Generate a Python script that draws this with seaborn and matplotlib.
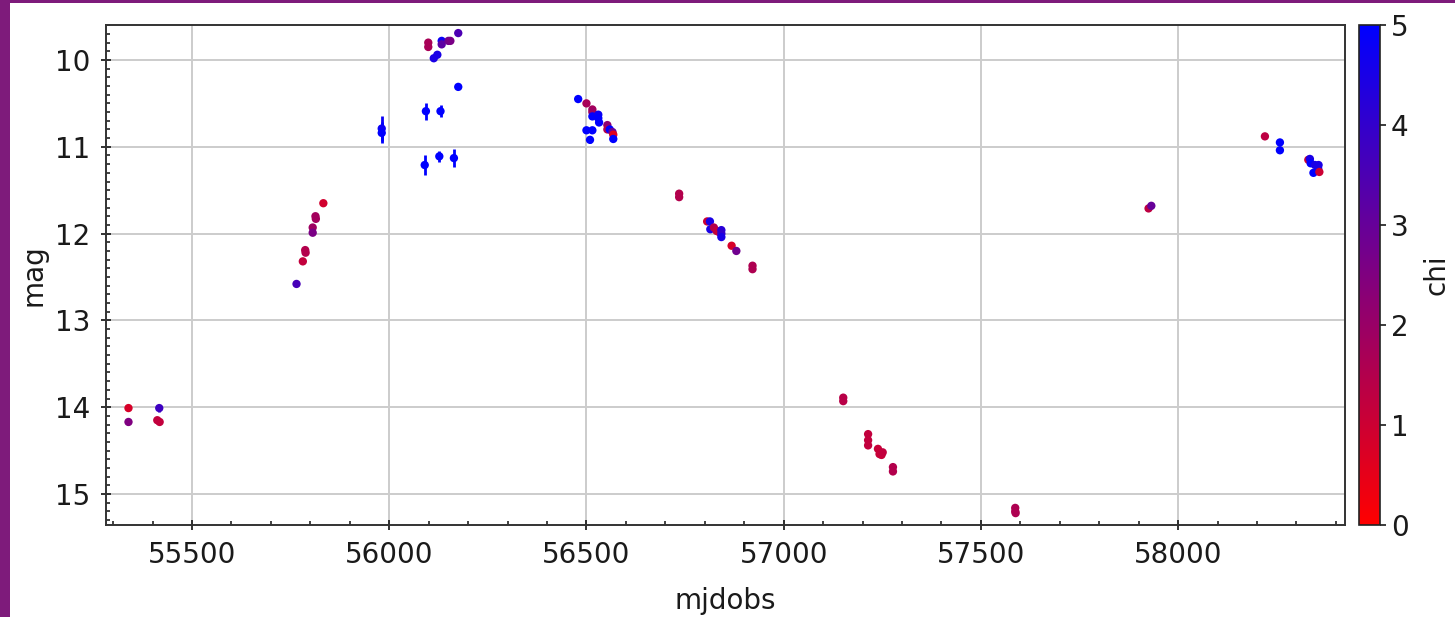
import numpy as np
import pandas as pd
import matplotlib
matplotlib.use("Agg")
import matplotlib.pyplot as plt
from matplotlib.colors import LinearSegmentedColormap, Normalize
from matplotlib.ticker import MultipleLocator
from matplotlib.patches import Rectangle
import seaborn as sns

# Light curve: observation epoch, magnitude, magnitude error, chi
mjdobs = [
    55339, 55339, 55417, 55412, 55418,
    55765, 55781, 55787, 55788, 55806, 55806, 55813, 55814, 55833,
    55981, 55981, 56090, 56093, 56099, 56099, 56113, 56122, 56127, 56130,
    56133, 56133, 56150, 56155, 56164, 56175, 56175,
    56479, 56500, 56515, 56515, 56515, 56530, 56530, 56532, 56500, 56515,
    56509, 56553, 56553, 56559, 56566, 56568, 56568,
    56735, 56735, 56806, 56813, 56814, 56823, 56830, 56838, 56842, 56842,
    56842, 56868, 56880, 56921, 56921,
    57151, 57151, 57214, 57214, 57214, 57239, 57243, 57248, 57251, 57277,
    57277, 57587, 57587, 57588,
    57925, 57932, 58220, 58258, 58258, 58330, 58334, 58336, 58347, 58355,
    58356, 58343, 58358,
]
mag = [
    14.01, 14.17, 14.01, 14.15, 14.17,
    12.58, 12.32, 12.19, 12.22, 11.93, 11.99, 11.80, 11.83, 11.65,
    10.79, 10.84, 11.21, 10.59, 9.80, 9.85, 9.98, 9.94, 11.11, 10.59,
    9.78, 9.82, 9.78, 9.78, 11.13, 9.69, 10.31,
    10.45, 10.50, 10.57, 10.60, 10.65, 10.63, 10.67, 10.72, 10.81, 10.81,
    10.92, 10.75, 10.80, 10.80, 10.83, 10.86, 10.91,
    11.54, 11.58, 11.86, 11.86, 11.95, 11.93, 11.97, 11.99, 11.96, 12.00,
    12.04, 12.14, 12.20, 12.37, 12.41,
    13.89, 13.93, 14.31, 14.38, 14.44, 14.48, 14.54, 14.55, 14.52, 14.69,
    14.74, 15.16, 15.20, 15.22,
    11.71, 11.68, 10.88, 10.95, 11.04, 11.15, 11.14, 11.19, 11.21, 11.25,
    11.21, 11.30, 11.29,
]
magerr = [
    0.02, 0.03, 0.04, 0.02, 0.02,
    0.02, 0.02, 0.02, 0.02, 0.02, 0.02, 0.02, 0.02, 0.02,
    0.14, 0.12, 0.12, 0.10, 0.03, 0.03, 0.02, 0.02, 0.06, 0.07,
    0.02, 0.02, 0.02, 0.02, 0.10, 0.02, 0.03,
    0.02, 0.02, 0.02, 0.02, 0.02, 0.02, 0.02, 0.02, 0.03, 0.02,
    0.04, 0.02, 0.02, 0.02, 0.02, 0.02, 0.02,
    0.02, 0.02, 0.02, 0.02, 0.02, 0.02, 0.02, 0.02, 0.02, 0.02,
    0.02, 0.02, 0.02, 0.02, 0.02,
    0.02, 0.02, 0.02, 0.02, 0.02, 0.02, 0.02, 0.02, 0.02, 0.02,
    0.02, 0.02, 0.02, 0.02,
    0.02, 0.02, 0.02, 0.02, 0.02, 0.02, 0.02, 0.02, 0.02, 0.02,
    0.02, 0.02, 0.02,
]
chi = [
    0.8, 2.5, 3.8, 1.2, 1.2,
    3.6, 1.2, 1.5, 1.5, 1.9, 2.6, 1.8, 1.8, 0.9,
    4.8, 5.0, 5.0, 5.0, 1.7, 1.7, 4.5, 4.5, 5.0, 5.0,
    4.8, 3.2, 2.8, 2.6, 5.0, 3.5, 5.0,
    5.0, 1.7, 1.8, 1.9, 5.0, 4.8, 5.0, 5.0, 5.0, 5.0,
    5.0, 2.2, 1.5, 5.0, 3.0, 0.6, 5.0,
    1.5, 1.5, 1.0, 4.5, 4.5, 1.5, 1.2, 1.0, 4.2, 4.0,
    4.5, 0.8, 2.8, 1.6, 1.6,
    1.4, 1.4, 1.2, 1.2, 1.2, 1.1, 1.1, 1.1, 1.2, 1.5,
    1.5, 1.6, 1.6, 1.6,
    1.3, 3.0, 1.3, 5.0, 5.0, 1.0, 4.5, 5.0, 4.5, 4.5,
    4.5, 5.0, 1.0,
]

df = pd.DataFrame({"mjdobs": mjdobs, "mag": mag, "magerr": magerr, "chi": chi})

sns.set_style("ticks")
plt.rcParams["font.family"] = ["DejaVu Sans"]
plt.rcParams["font.size"] = 20
plt.rcParams["text.color"] = "#1a1a1a"
plt.rcParams["axes.labelcolor"] = "#1a1a1a"
plt.rcParams["xtick.color"] = "#1a1a1a"
plt.rcParams["ytick.color"] = "#1a1a1a"

cmap = LinearSegmentedColormap.from_list("redblue", ["#ff0000", "#0000ff"])
norm = Normalize(vmin=0, vmax=5)

fig = plt.figure(figsize=(14.55, 6.17), dpi=100)
fig.patch.set_facecolor("white")
# purple frame strips along the left and top edges
fig.add_artist(Rectangle((0, 0), 10 / 1455, 1, transform=fig.transFigure,
                         facecolor="#7e1b7b", edgecolor="none", zorder=10))
fig.add_artist(Rectangle((0, 1 - 3 / 617), 1, 3 / 617, transform=fig.transFigure,
                         facecolor="#7e1b7b", edgecolor="none", zorder=10))

ax = fig.add_axes([106 / 1455, 1 - 525 / 617, (1345 - 106) / 1455, 500 / 617])
cax = fig.add_axes([1359 / 1455, 1 - 525 / 617, 21 / 1455, 500 / 617])

ax.grid(True, color="#cccccc", linewidth=1.4, zorder=0)
ax.set_axisbelow(True)

ax.vlines(df["mjdobs"], df["mag"] - df["magerr"], df["mag"] + df["magerr"],
          colors=cmap(norm(df["chi"])), linewidth=2.0, zorder=2)
sns.scatterplot(data=df, x="mjdobs", y="mag", hue="chi", palette=cmap,
                hue_norm=norm, s=36, linewidth=0, legend=False, ax=ax, zorder=3)

ax.set_xlim(55282, 58423)
ax.set_ylim(15.357, 9.597)
ax.xaxis.set_major_locator(MultipleLocator(500))
ax.xaxis.set_minor_locator(MultipleLocator(100))
ax.yaxis.set_major_locator(MultipleLocator(1))
ax.yaxis.set_minor_locator(MultipleLocator(0.1))
ax.tick_params(which="major", direction="inout", length=7, width=1.3,
               color="#222222", labelsize=20, pad=8)
ax.tick_params(which="minor", direction="in", length=3, width=1.2, color="#222222")
for s in ax.spines.values():
    s.set_color("#333333")
    s.set_linewidth(1.4)

ax.set_xlabel("mjdobs", fontsize=20, labelpad=13)
ax.set_ylabel("mag", fontsize=20, labelpad=5)

sm = plt.cm.ScalarMappable(cmap=cmap, norm=norm)
cb = fig.colorbar(sm, cax=cax)
cb.set_ticks([0, 1, 2, 3, 4, 5])
cb.outline.set_edgecolor("#222222")
cb.outline.set_linewidth(1.2)
cax.tick_params(direction="out", length=4, width=1.2, labelsize=20, pad=4)
cb.set_label("chi", fontsize=20, labelpad=10)

fig.savefig("out.png", dpi=100)
